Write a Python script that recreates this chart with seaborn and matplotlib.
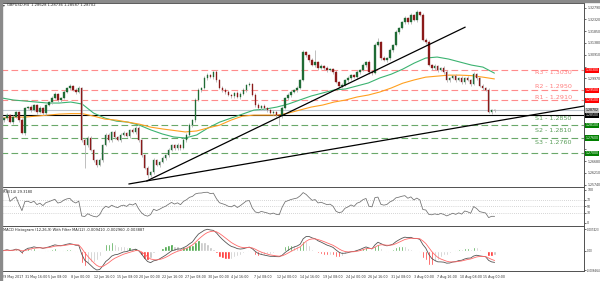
import numpy as np
import pandas as pd
import matplotlib
matplotlib.use("Agg")
import matplotlib.pyplot as plt
import matplotlib.transforms as mtransforms
import seaborn as sns

# ---------------- data ----------------
title_text = "GBPUSD,H4  1.28628 1.28736 1.28587 1.28702"
rsi_title = "RSI(14) 29.3180"
macd_title = "MACD Histogram (12,26,9) With Filter MA(12) -0.009410 -0.002960 -0.003887"

first_open = 1.2835
closes = [
    1.2831, 1.2839, 1.2851, 1.2823, 1.2843, 1.2863, 1.2831, 1.2780, 1.2879, 1.2883,
    1.2871, 1.2891, 1.2863, 1.2879, 1.2859, 1.2891, 1.2903, 1.2919, 1.2935, 1.2911,
    1.2919, 1.2943, 1.2959, 1.2967, 1.2951, 1.2943, 1.2959, 1.2752, 1.2732, 1.2760,
    1.2712, 1.2672, 1.2652, 1.2672, 1.2732, 1.2772, 1.2752, 1.2784, 1.2764, 1.2752,
    1.2772, 1.2780, 1.2768, 1.2792, 1.2784, 1.2800, 1.2752, 1.2692, 1.2640, 1.2612,
    1.2624, 1.2672, 1.2652, 1.2664, 1.2680, 1.2692, 1.2712, 1.2732, 1.2720, 1.2732,
    1.2720, 1.2752, 1.2772, 1.2811, 1.2831, 1.2911, 1.2951, 1.2959, 1.2998, 1.3010,
    1.3002, 1.3022, 1.2990, 1.2959, 1.2951, 1.2943, 1.2931, 1.2927, 1.2939, 1.2923,
    1.2935, 1.2951, 1.2971, 1.2975, 1.2931, 1.2891, 1.2879, 1.2887, 1.2879, 1.2871,
    1.2859, 1.2863, 1.2851, 1.2847, 1.2879, 1.2919, 1.2931, 1.2943, 1.2951, 1.2959,
    1.2990, 1.3102, 1.3090, 1.3070, 1.3050, 1.3062, 1.3038, 1.3046, 1.3038, 1.3030,
    1.3034, 1.3022, 1.2982, 1.2967, 1.2971, 1.2990, 1.2998, 1.3010, 1.3002, 1.3022,
    1.3030, 1.3050, 1.3062, 1.3022, 1.3018, 1.3130, 1.3142, 1.3078, 1.3070, 1.3078,
    1.3110, 1.3130, 1.3182, 1.3198, 1.3221, 1.3237, 1.3221, 1.3249, 1.3229, 1.3261,
    1.3249, 1.3150, 1.3142, 1.3050, 1.3038, 1.3046, 1.3030, 1.3038, 1.3022, 1.2990,
    1.2998, 1.3006, 1.2990, 1.2998, 1.2982, 1.2998, 1.2990, 1.2975, 1.3014, 1.2998,
    1.2967, 1.2959, 1.2951, 1.2863, 1.2871, 1.2870,
]
wick_up_pips = [
    6, 4, 8, 5, 7, 3, 6, 9, 5, 4, 7, 5, 6, 8, 4, 6, 5, 7, 9, 4,
    6, 8, 5, 7, 4, 6, 9, 5, 8, 6, 7, 4, 6, 9, 5, 8, 6, 4, 7, 5,
    6, 8, 5, 4, 7, 6, 9, 5, 6, 8, 5, 7, 4, 6, 8, 5, 7, 6, 4, 9,
    5, 6, 8, 7, 4, 9, 6, 5, 8, 7, 6, 4, 9, 5, 7, 8, 6, 5, 4, 7,
    8, 6, 5, 9, 4, 6, 7, 5, 8, 6, 4, 7, 5, 6, 8, 5, 9, 6, 4, 7,
    5, 8, 6, 4, 7, 50, 6, 8, 5, 7, 4, 6, 9, 5, 7, 6, 8, 4, 5, 7,
    6, 9, 5, 8, 4, 7, 16, 5, 8, 6, 7, 5, 9, 4, 6, 8, 5, 7, 6, 8,
    5, 7, 6, 9, 4, 8, 6, 5, 7, 8, 6, 4, 8, 5, 7, 6, 9, 5, 8, 6,
    5, 7, 4, 8, 6, 5,
]
wick_dn_pips = [
    5, 7, 6, 4, 8, 5, 9, 6, 7, 5, 6, 4, 8, 5, 7, 9, 5, 6, 4, 8,
    7, 5, 6, 9, 4, 7, 5, 6, 90, 7, 5, 8, 6, 4, 7, 5, 9, 6, 8, 5,
    7, 4, 6, 8, 5, 9, 6, 7, 5, 12, 6, 8, 5, 7, 4, 6, 9, 5, 7, 6,
    8, 5, 7, 4, 9, 6, 5, 8, 6, 7, 5, 9, 6, 4, 8, 7, 5, 6, 9, 4,
    7, 5, 8, 6, 4, 9, 5, 7, 6, 8, 5, 7, 6, 36, 8, 4, 6, 9, 5, 7,
    6, 5, 8, 7, 4, 6, 9, 5, 7, 8, 5, 6, 4, 9, 7, 5, 8, 6, 4, 7,
    9, 5, 7, 6, 8, 4, 6, 9, 5, 7, 6, 8, 5, 7, 4, 9, 6, 8, 5, 7,
    4, 6, 8, 5, 9, 7, 6, 5, 8, 6, 7, 5, 9, 4, 6, 8, 5, 7, 6, 9,
    5, 8, 6, 4, 7, 5,
]
# moving averages read every 8 H4 bars
ma_green = [
    1.2919, 1.2911, 1.2907, 1.2903, 1.2899, 1.2899, 1.2903, 1.2895, 1.2859, 1.2839,
    1.2827, 1.2823, 1.2811, 1.2792, 1.2776, 1.2764, 1.2760, 1.2772, 1.2800, 1.2823,
    1.2839, 1.2855, 1.2871, 1.2875, 1.2883, 1.2895, 1.2911, 1.2927, 1.2939, 1.2951,
    1.2955, 1.2967, 1.2979, 1.2999, 1.3014, 1.3034, 1.3058, 1.3078, 1.3082, 1.3074,
    1.3062, 1.3050, 1.3042, 1.3018,
]
ma_orange = [
    1.2839, 1.2843, 1.2843, 1.2847, 1.2851, 1.2855, 1.2857, 1.2857, 1.2847, 1.2835,
    1.2831, 1.2823, 1.2815, 1.2803, 1.2796, 1.2790, 1.2784, 1.2788, 1.2800, 1.2811,
    1.2831, 1.2847, 1.2851, 1.2851, 1.2851, 1.2859, 1.2871, 1.2883, 1.2891, 1.2903,
    1.2911, 1.2923, 1.2931, 1.2943, 1.2959, 1.2978, 1.2991, 1.3002, 1.3006, 1.3010,
    1.3010, 1.3008, 1.3002, 1.2995,
]
resist_levels = [1.3030, 1.2950, 1.2910]
resist_names = ["R3 - 1.3030", "R2 - 1.2950", "R1 - 1.2910"]
pivot_black = 1.2850
support_levels = [1.2810, 1.2760, 1.2700]
support_names = ["S1 - 1.2850", "S2 - 1.2810", "S3 - 1.2760"]
support_name_levels = [1.2850, 1.2810, 1.2760]
current_price = 1.28702
# trendlines: (bar, price) endpoints
trend_a = ([88.6, 406.6], [1.2577, 1.2887])
trend_b = ([101.1, 323.6], [1.2589, 1.3201])
price_ticks = [1.25740 + 0.0047 * k for k in range(16)]
date_labels = ["29 May 2017", "31 May 16:00", "5 Jun 08:00", "8 Jun 00:00", "12 Jun 16:00",
               "15 Jun 08:00", "20 Jun 00:00", "22 Jun 16:00", "27 Jun 08:00", "30 Jun 00:00",
               "4 Jul 16:00", "7 Jul 08:00", "12 Jul 00:00", "14 Jul 16:00", "19 Jul 08:00",
               "24 Jul 00:00", "26 Jul 16:00", "31 Jul 08:00", "3 Aug 00:00", "7 Aug 16:00",
               "10 Aug 08:00", "15 Aug 00:00"]

# ---------------- layout constants ----------------
BARS_PER_CANDLE = 2.09
X0 = -0.7
BARS_PER_LABEL = 16
MA_STEP = 8
XLIM = (-0.7, 406.6)
FS = 2.5
YLIM = (1.2565, 1.3297)

sns.set_style("white")
plt.rcParams["font.family"] = ["DejaVu Sans"]
plt.rcParams["font.stretch"] = "condensed"

W, H = 600, 281
fig = plt.figure(figsize=(W / 100, H / 100), dpi=100)

def px_axes(x0, y0, x1, y1):
    return fig.add_axes([x0 / W, 1 - y1 / H, (x1 - x0) / W, (y1 - y0) / H])

ax = px_axes(1, 3, 584, 187)
ax_rsi = px_axes(1, 187, 584, 226)
ax_macd = px_axes(1, 226, 584, 271)

n = len(closes)
c = np.array(closes)
o = np.array([first_open] + closes[:-1])
hi = np.maximum(o, c) + np.array(wick_up_pips) * 1e-4
lo = np.minimum(o, c) - np.array(wick_dn_pips) * 1e-4
pos = X0 + np.arange(n) * BARS_PER_CANDLE

# levels
for lv in resist_levels:
    ax.axhline(lv, color="#ff8c8c", lw=0.8, ls=(0, (6, 3)), zorder=1)
for lv in support_levels:
    ax.axhline(lv, color="#6aa86a", lw=0.8, ls=(0, (6, 3)), zorder=1)
ax.axhline(current_price, color="#c0c8d0", lw=0.8, zorder=1)
ax.axhline(pivot_black, color="#000000", lw=0.8, zorder=1)

# moving averages
ma_pos = np.arange(len(ma_green)) * MA_STEP
sns.lineplot(x=ma_pos, y=ma_green, ax=ax, color="#3cb371", lw=0.8, zorder=3)
sns.lineplot(x=ma_pos, y=ma_orange, ax=ax, color="#ffa020", lw=0.8, zorder=3)

# candles
ax.vlines(pos, lo, hi, color="#b4b4b4", lw=0.6, zorder=4)
bull = c >= o
ax.bar(pos[bull], (c - o)[bull], bottom=o[bull], width=1.0, color="#1f6b35",
       edgecolor="#1f6b35", lw=0.25, zorder=5)
ax.bar(pos[~bull], (c - o)[~bull], bottom=o[~bull], width=1.0, color="#8b1a1a",
       edgecolor="#8b1a1a", lw=0.25, zorder=5)

# trendlines
ax.plot(*trend_a, color="black", lw=0.9, zorder=6)
ax.plot(*trend_b, color="black", lw=0.9, zorder=6)

ax.set_xlim(*XLIM)
ax.set_ylim(*YLIM)

# level labels
label_x = 398.0
r_off = [-0.0008, 0.0014, 0.0011]
for lv, name, off in zip(resist_levels, resist_names, r_off):
    ax.text(label_x, lv + off, name, fontsize=4.6, fontstretch="normal", color="#ff8080",
            ha="right", va="center", zorder=7)
s_off = [-0.0013, -0.0020, -0.0018]
for lv, name, off in zip(support_name_levels, support_names, s_off):
    ax.text(label_x, lv + off, name, fontsize=4.6, fontstretch="normal", color="#5a9e5a",
            ha="right", va="center", zorder=7)

# right axis ticks
boxes = [(lv, "#ff0000", "white") for lv in resist_levels]
boxes += [(current_price, "#c8c8c8", "black"), (pivot_black, "#000000", "white")]
boxes += [(lv, "#008000", "white") for lv in support_levels]
px_per_price = 184 / (YLIM[1] - YLIM[0])
ax.yaxis.tick_right()
ax.set_yticks(price_ticks)
tick_labels = []
for t in price_ticks:
    near = any(abs(t - b[0]) * px_per_price < 4.0 for b in boxes)
    tick_labels.append("" if near else f"{t:.5f}")
ax.set_yticklabels(tick_labels, fontsize=FS)
ax.tick_params(axis="y", length=1.5, width=0.5, pad=0.8, colors="#333333")
ax.set_xticks([])
trans = mtransforms.blended_transform_factory(ax.transAxes, ax.transData)
for lv, fc, tc in boxes:
    ax.text(1.0025, lv, f"{lv:.5f}", transform=trans, fontsize=FS, color=tc, ha="left", va="center",
            clip_on=False, zorder=10,
            bbox=dict(boxstyle="square,pad=0.15", fc=fc, ec="none"))

# ---------------- RSI ----------------
s = pd.Series(c)
d = s.diff()
up = d.clip(lower=0).ewm(alpha=1 / 7, adjust=False).mean()
dn = (-d.clip(upper=0)).ewm(alpha=1 / 7, adjust=False).mean()
rsi = 100 - 100 / (1 + up / dn)
for lv in (70, 50, 30):
    ax_rsi.axhline(lv, color="#b0b0b0", lw=0.5, ls=(0, (1, 2)))
sns.lineplot(x=pos, y=rsi.values, ax=ax_rsi, color="#6e6e6e", lw=0.55)
ax_rsi.set_xlim(*XLIM)
ax_rsi.set_ylim(-9, 108)
ax_rsi.yaxis.tick_right()
ax_rsi.set_yticks([100, 70, 50, 30, 0])
ax_rsi.set_yticklabels(["100", "70", "50", "30", "0"], fontsize=FS)
ax_rsi.tick_params(axis="y", length=1.5, width=0.5, pad=0.8, colors="#333333")
ax_rsi.set_xticks([])
ax_rsi.text(0.004, 0.93, rsi_title, transform=ax_rsi.transAxes, fontsize=2.9, va="top", ha="left")

# ---------------- MACD ----------------
ema_f = s.ewm(span=6, adjust=False).mean()
ema_s = s.ewm(span=13, adjust=False).mean()
macd = ema_f - ema_s
sig = macd.ewm(span=4.5, adjust=False).mean()
hist = (macd - sig) * 2
dh = hist.diff().fillna(0)
cols = np.where((hist > 0) & (dh > 0), "#2f9a2f", np.where((hist < 0) & (dh < 0), "#ff1a1a", "#c0c0c0"))
ax_macd.bar(pos, hist.values, width=1.6, color=cols, zorder=2)
sns.lineplot(x=pos, y=macd.values, ax=ax_macd, color="#555555", lw=0.6, zorder=3)
sns.lineplot(x=pos, y=sig.values, ax=ax_macd, color="#ff6a6a", lw=0.6, zorder=3)
mx = float(max(macd.max(), sig.max()))
mn = float(min(macd.min(), sig.min()))
span_v = mx - mn
ax_macd.set_xlim(*XLIM)
ax_macd.set_ylim(mn - span_v * 1.0 / 40.7, mx + span_v * 3.3 / 40.7)
ax_macd.yaxis.tick_right()
ax_macd.set_yticks([mx, 0.0, mn])
ax_macd.set_yticklabels([f"{mx:.6f}", "0.00", f"{mn:.6f}"], fontsize=2.15)
ax_macd.tick_params(axis="y", length=1.5, width=0.5, pad=0.6, colors="#333333")
ax_macd.text(0.004, 0.95, macd_title, transform=ax_macd.transAxes, fontsize=2.9, va="top", ha="left")
tick_pos = np.arange(len(date_labels)) * BARS_PER_LABEL
ax_macd.set_xticks(tick_pos)
ax_macd.set_xticklabels(date_labels, fontsize=2.6, ha="left")
ax_macd.tick_params(axis="x", length=2, width=0.5, pad=1.0, colors="#333333")

for a in (ax, ax_rsi, ax_macd):
    for sp in a.spines.values():
        sp.set_color("#505050")
        sp.set_linewidth(0.7)
    a.set_xlabel("")
    a.set_ylabel("")
    a.grid(False)

fig.text(2.5 / W, 1 - 5 / H, "\u25be", fontsize=2.9, va="center", ha="left")
fig.text(7 / W, 1 - 5 / H, title_text, fontsize=3.0, va="center", ha="left")
fig.patches.append(plt.Rectangle((0, 1 - 1.5 / H), 1, 1.5 / H, transform=fig.transFigure,
                                 color="#8a8a8a", zorder=0))
fig.patches.append(plt.Rectangle((0, 0), 1.5 / W, 1, transform=fig.transFigure,
                                 color="#8a8a8a", zorder=0))

fig.savefig("out.png", dpi=100)
